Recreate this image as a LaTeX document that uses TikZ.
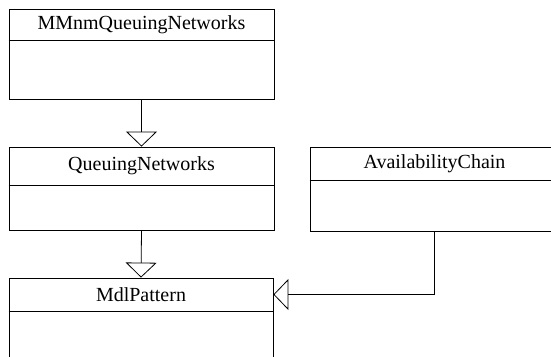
\documentclass[tikz,border=0pt]{standalone}
\usepackage{fontspec}
\setmainfont{Liberation Serif}
\usetikzlibrary{arrows.meta,positioning}
\tikzset{
  classhead/.style={draw, line width=0.8pt, inner sep=0pt, font=\fontsize{20}{24}\selectfont},
  classbody/.style={draw, line width=0.8pt, inner sep=0pt},
  divider/.style={line width=1.8pt},
  inherit/.style={-{Triangle[open,length=15pt,width=31pt]}, line width=0.8pt}
}
\begin{document}
\begin{tikzpicture}[x=1pt,y=-1pt]
\useasboundingbox (0,0) rectangle (551,356);
\clip (0,0) rectangle (551,356);
%% MMnmQueuingNetworks
\node[classhead, minimum width=265pt, minimum height=31pt] (mmnmHead) at (141.5,24.5) {MMnmQueuingNetworks};
\node[classbody, minimum width=265pt, minimum height=59pt, below=0pt of mmnmHead] (mmnm) {};
\draw[divider] (mmnmHead.south west) -- (mmnmHead.south east);
%% QueuingNetworks
\node[classhead, minimum width=265pt, minimum height=38pt] (qnHead) at (141.5,166) {QueuingNetworks};
\node[classbody, minimum width=265pt, minimum height=45pt, below=0pt of qnHead] (qn) {};
\draw[divider] (qnHead.south west) -- (qnHead.south east);
%% AvailabilityChain
\node[classhead, minimum width=249pt, minimum height=33pt] (acHead) at (434.5,163.5) {AvailabilityChain};
\node[classbody, minimum width=249pt, minimum height=51pt, below=0pt of acHead] (ac) {};
\draw[divider] (acHead.south west) -- (acHead.south east);
%% MdlPattern
\node[classhead, minimum width=264pt, minimum height=33pt] (mdlHead) at (141,294.5) {MdlPattern};
\node[classbody, minimum width=264pt, minimum height=60pt, below=0pt of mdlHead] (mdl) {};
\draw[divider] (mdlHead.south west) -- (mdlHead.south east);
%% generalisations
\draw[inherit] (mmnm.south) -- (qnHead.north);
\draw[inherit] (qn.south) -- (mdlHead.north);
\draw[inherit] (ac.south) |- (mdlHead.east);
\end{tikzpicture}
\end{document}
